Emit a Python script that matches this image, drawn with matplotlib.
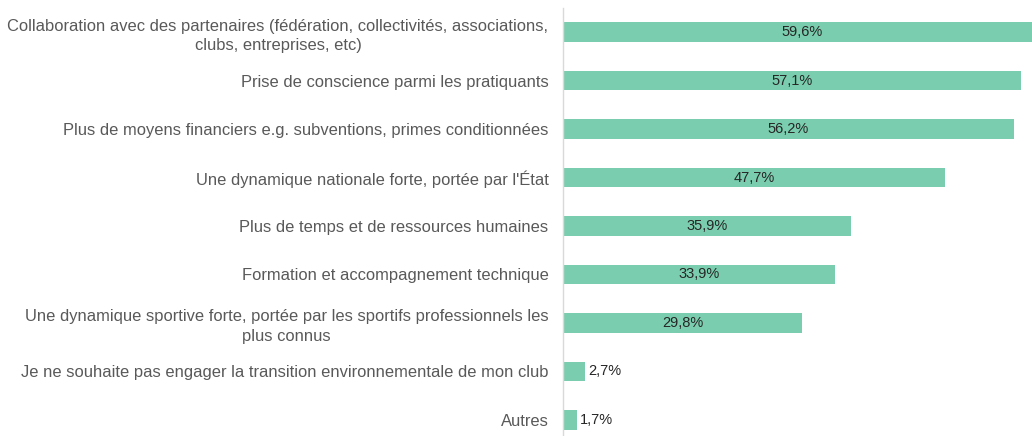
import numpy as np
import matplotlib
matplotlib.use('Agg')
import matplotlib.pyplot as plt

categories = [
    "Collaboration avec des partenaires (fédération, collectivités, associations,\nclubs, entreprises, etc)",
    "Prise de conscience parmi les pratiquants",
    "Plus de moyens financiers e.g. subventions, primes conditionnées",
    "Une dynamique nationale forte, portée par l'État",
    "Plus de temps et de ressources humaines",
    "Formation et accompagnement technique",
    "Une dynamique sportive forte, portée par les sportifs professionnels les\nplus connus",
    "Je ne souhaite pas engager la transition environnementale de mon club",
    "Autres",
]
values = [59.6, 57.1, 56.2, 47.7, 35.9, 33.9, 29.8, 2.7, 1.7]

plt.rcParams['font.family'] = ['Liberation Sans', 'DejaVu Sans']

fig = plt.figure(figsize=(10.32, 4.36), dpi=100)
ax = fig.add_axes([563 / 1032, 0, 1 - 563 / 1032, (436 - 8) / 436])

y = np.arange(len(values))
ax.barh(y, values, height=0.41, color='#7acdae', edgecolor='none')

ax.set_xlim(0, 58.5)
ax.set_ylim(len(values) - 1 + 0.33, -0.495)

for yi, v in zip(y, values):
    label = f"{v:.1f}".replace('.', ',') + '%'
    if v > 10:
        ax.text(v / 2, yi, label, ha='center', va='center', fontsize=10.5, color='#262626')
    else:
        ax.text(v + 0.4, yi, label, ha='left', va='center', fontsize=10.5, color='#262626')

ax.set_yticks(y)
ax.set_yticklabels(categories, fontsize=11.9, color='#595959', multialignment='center',
                   linespacing=1.35)
ax.tick_params(axis='y', length=0, pad=10.5)
ax.set_xticks([])

for side in ['top', 'right', 'bottom']:
    ax.spines[side].set_visible(False)
ax.spines['left'].set_color('#d9d9d9')
ax.spines['left'].set_linewidth(1)

fig.savefig('out.png', dpi=100)
